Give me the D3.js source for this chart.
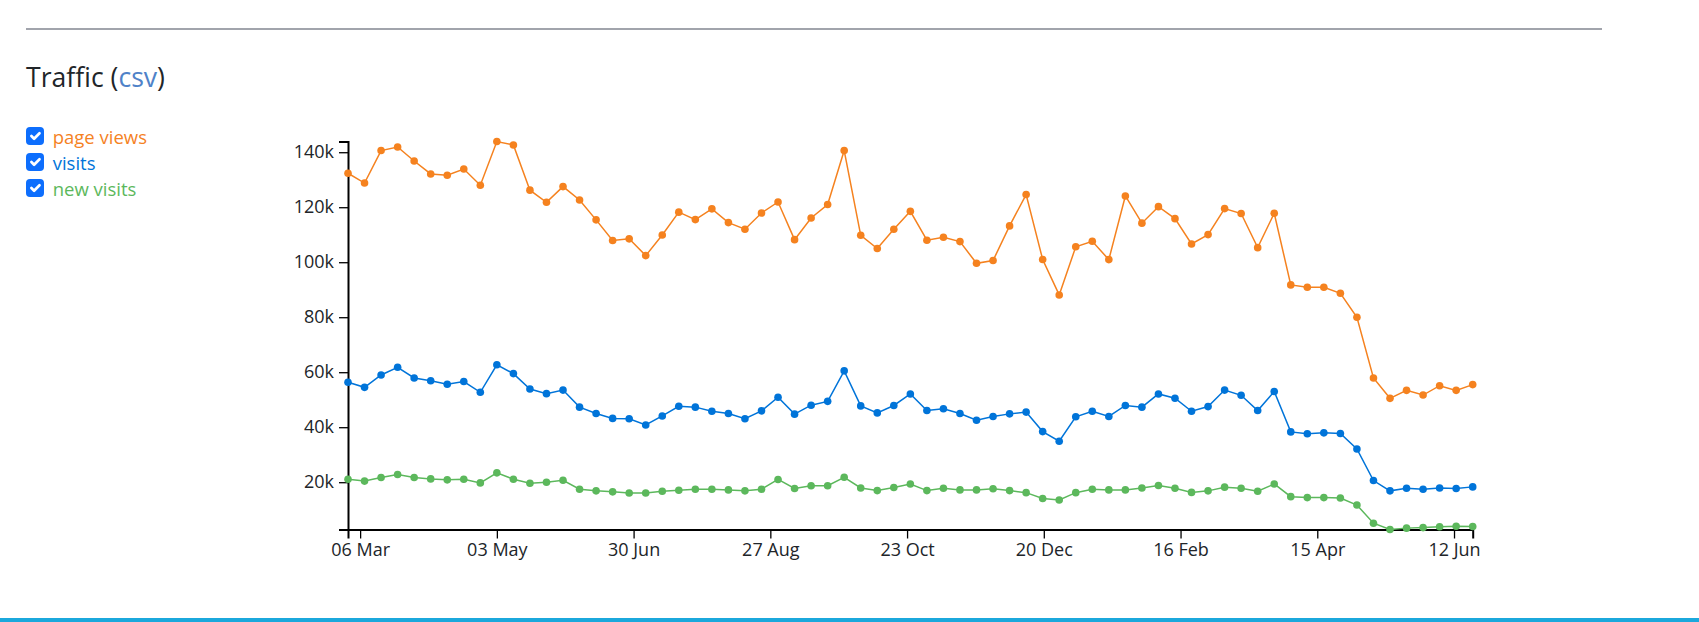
<!DOCTYPE html>
<html>
<head>
<meta charset="utf-8">
<title>Traffic</title>
<script src="https://cdn.jsdelivr.net/npm/d3@7"></script>
<style>
  body {
    margin: 0;
    font-family: "Open Sans", sans-serif;
    color: #212529;
    background: #fff;
  }
  .rule {
    position: absolute;
    left: 26px;
    top: 28px;
    width: 1576px;
    height: 2px;
    background: #a1a4ac;
  }
  .footer-bar {
    position: absolute;
    left: 0;
    top: 618px;
    width: 1699px;
    height: 4px;
    background: #1ba8dc;
  }
  h3 {
    position: absolute;
    left: 26px;
    top: 64px;
    margin: 0;
    font-size: 26.6px;
    font-weight: 400;
    line-height: 1;
  }
  h3 a {
    color: #4f82c8;
    text-decoration: none;
  }
  #legend {
    position: absolute;
    left: 26px;
    top: 123px;
    font-size: 18.5px;
  }
  .legend-item {
    display: flex;
    align-items: center;
    height: 26px;
  }
  .legend-item input {
    appearance: none;
    -webkit-appearance: none;
    width: 18px;
    height: 18px;
    margin: 0 8.7px 0 0;
    border-radius: 4px;
    background: #0d6efd url("data:image/svg+xml,%3csvg xmlns='http://www.w3.org/2000/svg' viewBox='0 0 20 20'%3e%3cpath fill='none' stroke='%23fff' stroke-linecap='round' stroke-linejoin='round' stroke-width='3' d='m6 10 3 3 6-6'/%3e%3c/svg%3e") center / 100% no-repeat;
  }
  #chart {
    position: absolute;
    left: 0;
    top: 0;
  }
  .axis text {
    font-family: "Open Sans", sans-serif;
    font-size: 18px;
    fill: #212529;
  }
  .axis .domain {
    stroke: #000;
    stroke-width: 2;
  }
  .axis .tick line {
    stroke: #000;
    stroke-width: 1.3;
  }
</style>
</head>
<body>
<div class="rule"></div>
<h3>Traffic (<a href="#">csv</a>)</h3>
<div id="legend"></div>
<div id="chart"></div>
<div class="footer-bar"></div>

<script>
// weekly samples (mondays)
var weeks = [
  "2021-03-01", "2021-03-08", "2021-03-15", "2021-03-22", "2021-03-29",
  "2021-04-05", "2021-04-12", "2021-04-19", "2021-04-26", "2021-05-03",
  "2021-05-10", "2021-05-17", "2021-05-24", "2021-05-31", "2021-06-07",
  "2021-06-14", "2021-06-21", "2021-06-28", "2021-07-05", "2021-07-12",
  "2021-07-19", "2021-07-26", "2021-08-02", "2021-08-09", "2021-08-16",
  "2021-08-23", "2021-08-30", "2021-09-06", "2021-09-13", "2021-09-20",
  "2021-09-27", "2021-10-04", "2021-10-11", "2021-10-18", "2021-10-25",
  "2021-11-01", "2021-11-08", "2021-11-15", "2021-11-22", "2021-11-29",
  "2021-12-06", "2021-12-13", "2021-12-20", "2021-12-27", "2022-01-03",
  "2022-01-10", "2022-01-17", "2022-01-24", "2022-01-31", "2022-02-07",
  "2022-02-14", "2022-02-21", "2022-02-28", "2022-03-07", "2022-03-14",
  "2022-03-21", "2022-03-28", "2022-04-04", "2022-04-11", "2022-04-18",
  "2022-04-25", "2022-05-02", "2022-05-09", "2022-05-16", "2022-05-23",
  "2022-05-30", "2022-06-06", "2022-06-13", "2022-06-20"
];

var pageViews = [
  132350, 128800, 140600, 141900, 136800, 132100, 131600, 133900, 128000, 143900,
  142650, 126200, 121800, 127500, 122650, 115400, 107900, 108500, 102400, 109900,
  118200, 115500, 119400, 114400, 112000, 117900, 121900, 108200, 116100, 121000,
  140600, 109800, 105000, 112000, 118500, 108000, 109100, 107500, 99600, 100600,
  113200, 124600, 101000, 88100, 105600, 107600, 100950, 124100, 114200, 120200,
  115850, 106650, 110050, 119500, 117700, 105300, 117800, 91750, 90900, 90900,
  88700, 80000, 57900, 50500, 53400, 51700, 55100, 53400, 55500
];

var visits = [
  56350, 54500, 59000, 61800, 57900, 56900, 55600, 56600, 52700, 62700,
  59500, 53900, 52200, 53500, 47300, 45000, 43200, 43100, 40800, 44100,
  47600, 47300, 45800, 45000, 43100, 45950, 50900, 44750, 48000, 49400,
  60500, 47750, 45200, 47900, 52100, 46050, 46700, 45000, 42550, 43900,
  44850, 45500, 38400, 34900, 43800, 45800, 43900, 47900, 47300, 52100,
  50550, 45800, 47500, 53500, 51600, 46050, 53000, 38300, 37600, 37950,
  37700, 32100, 20600, 16850, 17800, 17450, 17900, 17700, 18300
];

var newVisits = [
  21100, 20400, 21700, 22800, 21700, 21200, 20850, 21100, 19750, 23400,
  21100, 19600, 20000, 20700, 17450, 16850, 16500, 16100, 16100, 16700,
  17100, 17450, 17450, 17200, 16850, 17450, 21000, 17700, 18700, 18700,
  21800, 17900, 16950, 18050, 19350, 16950, 17800, 17200, 17200, 17600,
  16950, 16200, 14050, 13550, 16200, 17450, 17200, 17200, 17900, 18800,
  17800, 16300, 16850, 18200, 17800, 16700, 19350, 14750, 14400, 14400,
  14250, 11700, 5100, 2800, 3300, 3500, 3800, 4000, 3900
];

var seriesNames = ["page views", "visits", "new visits"];
var seriesColors = ["#f5821f", "#0074d9", "#5cb85c"];

// x ticks sit every 5e9 ms, labelled in the page's local time
var tickDates = [
  "2021-03-06T03:06:40Z", "2021-05-03T00:00:00Z", "2021-06-29T20:53:20Z",
  "2021-08-26T17:46:40Z", "2021-10-23T14:40:00Z", "2021-12-20T11:33:20Z",
  "2022-02-16T08:26:40Z", "2022-04-15T05:20:00Z", "2022-06-12T02:13:20Z"
];
var tickLabels = ["06 Mar", "03 May", "30 Jun", "27 Aug", "23 Oct", "20 Dec", "16 Feb", "15 Apr", "12 Jun"];

// legend with checkboxes
var legendItems = d3.select("#legend")
  .selectAll(".legend-item")
  .data(seriesNames)
  .enter()
  .append("label")
  .attr("class", "legend-item");

legendItems.append("input")
  .attr("type", "checkbox")
  .property("checked", true);

legendItems.append("span")
  .style("color", (d, i) => seriesColors[i])
  .text(d => d);

// chart
var svgWidth = 1699;
var svgHeight = 622;

var margin = { top: 141.5, left: 348 };
var width = 1124.7;
var height = 388;

var svg = d3.select("#chart")
  .append("svg")
  .attr("width", svgWidth)
  .attr("height", svgHeight);

var chartGroup = svg.append("g")
  .attr("transform", `translate(${margin.left}, ${margin.top})`);

var dates = weeks.map(d => new Date(d));
var seriesData = [pageViews, visits, newVisits].map(function(values, i) {
  return {
    name: seriesNames[i],
    color: seriesColors[i],
    points: values.map((v, j) => ({ date: dates[j], value: v }))
  };
});

// scales
var xTimeScale = d3.scaleUtc()
  .domain(d3.extent(dates))
  .range([0, width]);

var yLinearScale = d3.scaleLinear()
  .domain(d3.extent(pageViews.concat(visits, newVisits)))
  .range([height, 0]);

// axes
var xAxis = d3.axisBottom(xTimeScale)
  .tickValues(tickDates.map(d => new Date(d)))
  .tickFormat((d, i) => tickLabels[i])
  .tickSize(9)
  .tickPadding(5);

var yAxis = d3.axisLeft(yLinearScale)
  .ticks(6)
  .tickFormat(d3.format("~s"))
  .tickSize(9)
  .tickPadding(5);

chartGroup.append("g")
  .attr("class", "axis")
  .attr("transform", `translate(0, ${height})`)
  .call(xAxis);

chartGroup.append("g")
  .attr("class", "axis")
  .call(yAxis);

chartGroup.selectAll(".axis").attr("font-size", null).attr("font-family", null);

// line generator
var line = d3.line()
  .x(d => xTimeScale(d.date))
  .y(d => yLinearScale(d.value));

var seriesGroups = chartGroup.selectAll(".series")
  .data(seriesData)
  .enter()
  .append("g")
  .attr("class", "series");

seriesGroups.append("path")
  .attr("d", d => line(d.points))
  .attr("fill", "none")
  .attr("stroke", d => d.color)
  .attr("stroke-width", 1.5);

seriesGroups.each(function(s) {
  d3.select(this).selectAll("circle")
    .data(s.points)
    .enter()
    .append("circle")
    .attr("cx", d => xTimeScale(d.date))
    .attr("cy", d => yLinearScale(d.value))
    .attr("r", 3.8)
    .attr("fill", s.color);
});
</script>
</body>
</html>
